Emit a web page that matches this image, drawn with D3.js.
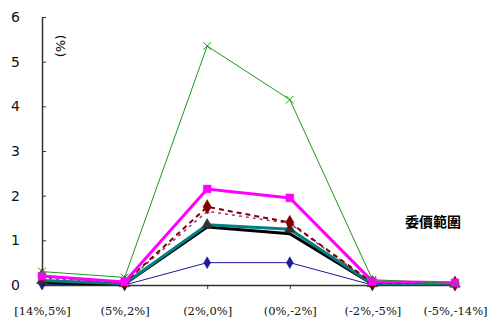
<!DOCTYPE html>
<html>
<head>
<meta charset="utf-8">
<script src="https://cdn.jsdelivr.net/npm/d3@7"></script>
<style>
  body { margin: 0; background: #fff; }
  .axis path, .axis line { stroke: #333; }
  .axis text { fill: #111; }
</style>
</head>
<body>
<svg id="priceRangeChart" width="497" height="324"></svg>
<script>
var categories = ["[14%,5%]", "(5%,2%]", "(2%,0%]", "(0%,-2%]", "(-2%,-5%]", "(-5%,-14%]"];
var yTicks = [0, 1, 2, 3, 4, 5, 6];

var greenValues = [0.3, 0.17, 5.35, 4.15, 0.12, 0.03];
var magentaValues = [0.2, 0.07, 2.15, 1.95, 0.08, 0.05];
var maroonValues = [0.2, 0.05, 1.75, 1.4, 0.05, 0.04];
var purpleValues = [0.15, 0.05, 1.65, 1.38, 0.04, 0.03];
var blackValues = [0.05, 0.02, 1.3, 1.15, 0.02, 0.02];
var tealValues = [0.1, 0.03, 1.35, 1.25, 0.03, 0.02];
var blueValues = [0.02, 0.0, 0.5, 0.5, 0.0, 0.0];

var series = [
  { name: "blue", values: blueValues, color: "#1c1c96", width: 1, dash: null, marker: "diamond", size: 40, mcolor: "#1c1c96" },
  { name: "black", values: blackValues, color: "#000", width: 3, dash: null, marker: null },
  { name: "teal", values: tealValues, color: "#008080", width: 3, dash: null, marker: "triangle", size: 50, mcolor: "#333" },
  { name: "purple", values: purpleValues, color: "#993399", width: 1.5, dash: "3,4", marker: "cross", size: 20, mcolor: "#993399" },
  { name: "maroon", values: maroonValues, color: "#800000", width: 2, dash: "5,4", marker: "diamond", size: 60, mcolor: "#800000" },
  { name: "magenta", values: magentaValues, color: "#ff00ff", width: 3, dash: null, marker: "square", size: 60, mcolor: "#ff00ff" },
  { name: "green", values: greenValues, color: "#1a9a1a", width: 1, dash: null, marker: "x", size: 40, mcolor: "#1a9a1a" }
];

var svg = d3.select("#priceRangeChart"),
  margin = { top: 17, right: 42, bottom: 39, left: 42 },
  width = +svg.attr("width") - margin.left - margin.right,
  height = +svg.attr("height") - margin.top - margin.bottom;

var x = d3.scalePoint().domain(categories).range([0, width]);
var y = d3.scaleLinear().domain([0, 6]).range([height, 0]);

var g = svg.append("g")
  .attr("transform", "translate(" + margin.left + "," + margin.top + ")");

g.append("g")
  .attr("class", "x axis")
  .attr("transform", "translate(0," + height + ")")
  .call(d3.axisBottom(x).tickSizeOuter(0).tickSize(4).tickPadding(18))
  .selectAll("text")
  .style("font-family", "'DejaVu Serif', serif")
  .style("font-size", "11.5px");

g.append("g")
  .attr("class", "y axis")
  .call(
    d3.axisLeft(y)
      .tickValues(yTicks)
      .tickFormat(function(d) { return parseInt(d); })
      .tickSizeInner(-4)
      .tickSizeOuter(0)
      .tickPadding(22)
  )
  .selectAll("text")
  .style("font-family", "'DejaVu Sans', sans-serif")
  .style("font-size", "14px");

g.selectAll(".axis path").attr("stroke-width", 1.5);

var line = d3.line()
  .x(function(d, i) { return x(categories[i]); })
  .y(function(d) { return y(d); });

series.forEach(function(s) {
  g.append("path")
    .datum(s.values)
    .attr("fill", "none")
    .attr("stroke", s.color)
    .attr("stroke-width", s.width)
    .attr("stroke-dasharray", s.dash)
    .attr("d", line);

  if (!s.marker) return;
  var sym = {
    diamond: d3.symbolDiamond,
    triangle: d3.symbolTriangle,
    square: d3.symbolSquare,
    cross: d3.symbolTimes,
    x: d3.symbolTimes
  }[s.marker];
  var stroked = s.marker === "x" || s.marker === "cross";
  g.selectAll(".m-" + s.name)
    .data(s.values)
    .enter()
    .append("path")
    .attr("class", "m-" + s.name)
    .attr("transform", function(d, i) { return "translate(" + x(categories[i]) + "," + y(d) + ")"; })
    .attr("d", d3.symbol().type(sym).size(s.size))
    .attr("fill", stroked ? "none" : s.mcolor)
    .attr("stroke", s.mcolor)
    .attr("stroke-width", stroked ? 1 : 0.5);
});

svg.append("text")
  .attr("transform", "translate(56,46) rotate(90)")
  .attr("text-anchor", "middle")
  .style("font-family", "'DejaVu Sans', sans-serif")
  .style("font-size", "13px")
  .text("(%)");

svg.append("text")
  .attr("x", 433)
  .attr("y", 227)
  .attr("text-anchor", "middle")
  .style("font-family", "'Noto Sans CJK TC', sans-serif")
  .style("font-size", "14px")
  .style("font-weight", "bold")
  .text("委價範圍");
</script>
</body>
</html>
